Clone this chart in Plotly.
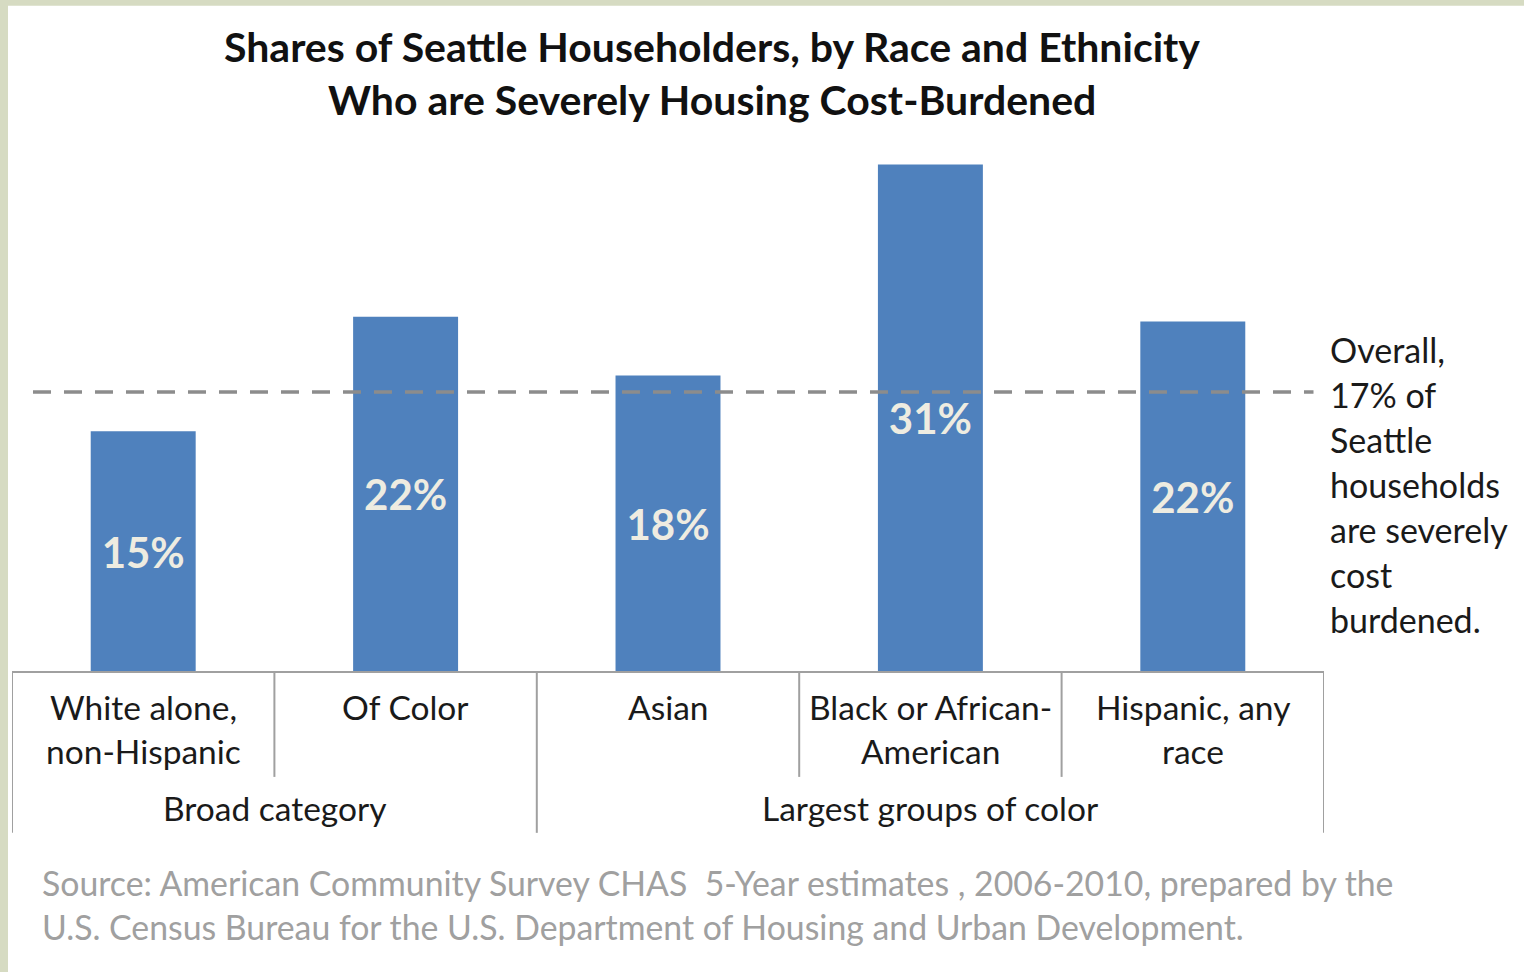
import plotly.graph_objects as go

# ---- data ----
categories = ["White alone,<br>non-Hispanic", "Of Color", "Asian",
              "Black or African-<br>American", "Hispanic, any<br>race"]
values = [14.7, 21.7, 18.1, 31.0, 21.4]
value_labels = ["15%", "22%", "18%", "31%", "22%"]
groups = ["Broad category", "Largest groups of color"]
group_members = [[0, 1], [2, 3, 4]]
overall = 17.1
overall_note = ["Overall,", "17% of", "Seattle", "households",
                "are severely", "cost", "burdened."]
title_lines = ["Shares of Seattle Householders, by Race and Ethnicity",
               "Who are Severely Housing Cost-Burdened"]
source_lines = ["Source: American Community Survey CHAS  5-Year estimates , 2006-2010, prepared by the",
                "U.S. Census Bureau for the U.S. Department of Housing and Urban Development."]

# ---- layout geometry ----
W, H = 1524, 972
ML, MR = 12, 200
PB = 672           # pixel y of axis bottom
PT = 147.5         # pixel y of plot top
MT, MB = PT, H - PB
PW = W - ML - MR
PH = PB - PT
FONT = "Lato"
BAR = "#4f81bd"
LINE = "#a0a0a0"
TXT = "#1a1a1a"


def px_x(px):
    return (px - ML) / PW


def px_y(py):
    return (PB - py) / PH


x = list(range(len(categories)))

fig = go.Figure()
fig.add_trace(go.Bar(
    x=x, y=values, width=0.4, marker=dict(color=BAR, line=dict(width=0)),
    text=value_labels, textposition="inside", insidetextanchor="middle",
    textfont=dict(family=FONT, size=42, color="#eeece1", weight="bold"),
    textangle=0, hoverinfo="skip", cliponaxis=False,
))

shapes = []
# background frame (light green border on left/top)
shapes.append(dict(type="rect", xref="paper", yref="paper", layer="below",
                   x0=px_x(8), x1=px_x(W + 20), y0=px_y(H + 20), y1=px_y(5),
                   fillcolor="white", line=dict(width=0)))
# overall dashed line
shapes.append(dict(type="line", xref="x", yref="y", x0=-0.42, x1=4.46,
                   y0=overall, y1=overall,
                   line=dict(color="#8c8c8c", width=3.5, dash="18px,13px")))
# category table: top line
shapes.append(dict(type="line", xref="x", yref="paper", x0=-0.5, x1=len(x) - 0.5,
                   y0=0, y1=0, line=dict(color=LINE, width=2)))
# boundaries
group_edges = set()
for mem in group_members:
    group_edges.add(mem[0] - 0.5)
    group_edges.add(mem[-1] + 0.5)
for i in range(len(x) + 1):
    b = i - 0.5
    bottom = px_y(833) if b in group_edges else px_y(777)
    shapes.append(dict(type="line", xref="x", yref="paper", x0=b, x1=b,
                       y0=0, y1=bottom, line=dict(color=LINE, width=2)))

annotations = []
# category labels, one annotation per line
for i, c in enumerate(categories):
    for j, line in enumerate(c.split("<br>")):
        annotations.append(dict(x=i, xref="x", y=px_y(707 + 44 * j), yref="paper",
                                text=line, showarrow=False, xanchor="center", yanchor="middle",
                                font=dict(family=FONT, size=33.5, color=TXT)))
for g, mem in zip(groups, group_members):
    annotations.append(dict(x=(mem[0] + mem[-1]) / 2, xref="x", y=px_y(808), yref="paper",
                            text=g, showarrow=False, xanchor="center", yanchor="middle",
                            font=dict(family=FONT, size=33.5, color=TXT)))
# overall note
for j, line in enumerate(overall_note):
    annotations.append(dict(x=px_x(1328), xref="paper", y=px_y(349 + 45.0 * j), yref="paper",
                            text=line, showarrow=False, xanchor="left", yanchor="middle",
                            font=dict(family=FONT, size=34, color=TXT)))
# title
for j, line in enumerate(title_lines):
    annotations.append(dict(x=px_x(712), xref="paper", y=px_y(46 + 53 * j), yref="paper",
                            text="<b>" + line + "</b>", showarrow=False,
                            xanchor="center", yanchor="middle",
                            font=dict(family=FONT, size=41, color="#111111")))
# source
for j, line in enumerate(source_lines):
    annotations.append(dict(x=px_x(40), xref="paper", y=px_y(883 + 44 * j), yref="paper",
                            text=line, showarrow=False, xanchor="left", yanchor="middle",
                            font=dict(family=FONT, size=33.8, color="#a0a0a0")))

fig.update_layout(
    width=W, height=H,
    margin=dict(l=ML, r=MR, t=MT, b=MB, pad=0),
    paper_bgcolor="#d6dbc2", plot_bgcolor="rgba(0,0,0,0)",
    showlegend=False, shapes=shapes, annotations=annotations,
    xaxis=dict(range=[-0.5, len(x) - 0.5], showticklabels=False, showgrid=False,
               zeroline=False, showline=False, ticks="", fixedrange=True),
    yaxis=dict(range=[0, 32], showticklabels=False, showgrid=False,
               zeroline=False, showline=False, ticks="", fixedrange=True),
    font=dict(family=FONT),
)

fig.write_html("out.html", config={"displayModeBar": False},
               post_script="document.body.style.margin='0px';document.body.style.overflow='hidden';")
